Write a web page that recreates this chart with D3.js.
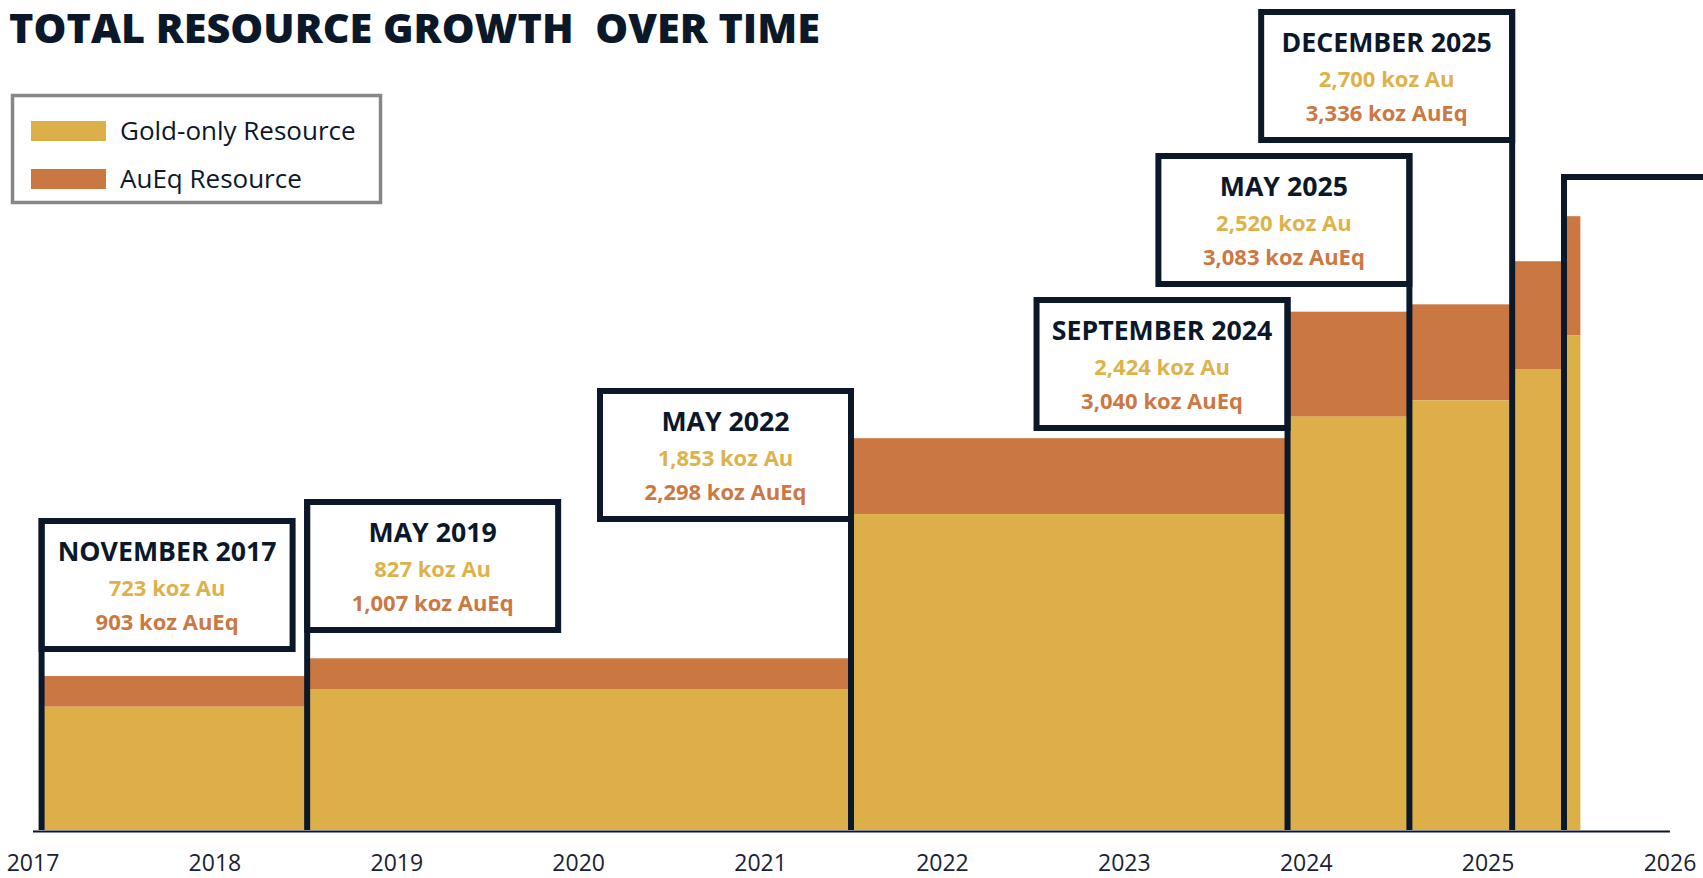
<!DOCTYPE html>
<html>
<head>
<meta charset="utf-8">
<script src="https://cdn.jsdelivr.net/npm/d3@7"></script>
<style>
  body { margin: 0; background: #fff; }
  svg { display: block; font-family: "Open Sans", "Noto Sans", sans-serif; }
</style>
</head>
<body>
<div id="chart"></div>
<script>
// resource updates (position on the year axis, labels, koz values)
var flagLabels = ['NOVEMBER 2017', 'MAY 2019', 'MAY 2022', 'SEPTEMBER 2024', 'MAY 2025', 'DECEMBER 2025', ''];
var axisPos = [2017.05, 2018.51, 2021.5, 2023.9, 2024.57, 2025.135, 2025.42];
var endPos = 2025.51;
var goldKoz = [723, 827, 1853, 2424, 2520, 2700, 2900];
var aueqKoz = [903, 1007, 2298, 3040, 3083, 3336, 3600];
var yearTicks = [2017, 2018, 2019, 2020, 2021, 2022, 2023, 2024, 2025, 2026];
var legendLabels = ['Gold-only Resource', 'AuEq Resource'];

// flag layout: top of each box (px) and side of the pole it hangs on
var flagTop = [521, 502, 391, 300, 156, 12, 177];
var flagSide = ['right', 'right', 'left', 'left', 'left', 'left', 'right'];

var navy = '#0b182a', gold = '#dcaf48', orange = '#cb7741';
var goldText = '#ddb24b', orangeText = '#cc7843';

var W = 1703, H = 878;
var svg = d3.select('#chart').append('svg').attr('width', W).attr('height', H);

var x = d3.scaleLinear().domain([2017, 2026]).range([32.5, 1669.5]);
var y = d3.scaleLinear().domain([0, 4000]).range([830, 148]);

svg.append('text')
    .attr('x', 9).attr('y', 43)
    .style('white-space', 'pre')
    .attr('font-size', 40).attr('font-weight', 800).attr('fill', navy)
    .attr('textLength', 811).attr('lengthAdjust', 'spacingAndGlyphs')
    .text('TOTAL RESOURCE GROWTH  OVER TIME');

// legend
var legend = svg.append('g');
legend.append('rect').attr('x', 12.5).attr('y', 95.5).attr('width', 368).attr('height', 107)
    .attr('fill', 'none').attr('stroke', '#878787').attr('stroke-width', 3.5);
legendLabels.forEach(function(l, i) {
    legend.append('rect').attr('x', 31).attr('y', 121 + i * 48).attr('width', 75).attr('height', 20)
        .attr('fill', i === 0 ? gold : orange);
    legend.append('text').attr('x', 120).attr('y', 140 + i * 48)
        .attr('font-size', 26).attr('fill', navy).text(l);
});

// stepped bars
var steps = axisPos.map(function(p, i) {
    return { x0: p, x1: i < axisPos.length - 1 ? axisPos[i + 1] : endPos, gold: goldKoz[i], aueq: aueqKoz[i] };
});

var bars = svg.append('g').selectAll('g').data(steps).enter().append('g');
bars.append('rect')
    .attr('x', function(d) { return x(d.x0); })
    .attr('width', function(d) { return x(d.x1) - x(d.x0); })
    .attr('y', function(d) { return y(d.aueq); })
    .attr('height', function(d) { return y(d.gold) - y(d.aueq); })
    .attr('fill', orange);
bars.append('rect')
    .attr('x', function(d) { return x(d.x0); })
    .attr('width', function(d) { return x(d.x1) - x(d.x0); })
    .attr('y', function(d) { return y(d.gold); })
    .attr('height', function(d) { return y(0) - y(d.gold); })
    .attr('fill', gold);

// x axis
var axis = svg.append('g').attr('transform', 'translate(0,' + (y(0) + 1) + ')')
    .call(d3.axisBottom(x).tickValues(yearTicks).tickFormat(d3.format('d')).tickSize(0).tickPadding(24));
axis.select('.domain').attr('stroke', navy).attr('stroke-width', 2);
axis.selectAll('text').attr('font-size', 23).attr('fill', '#1b2233')
    .attr('font-family', '"Open Sans", sans-serif');

// flags
var boxW = 251, boxH = 128;
axisPos.forEach(function(p, i) {
    var px = x(p);
    var bx = flagSide[i] === 'right' ? px : px - boxW;
    var by = flagTop[i];
    var g = svg.append('g');
    if (!flagLabels[i]) {
        // last flag runs off the page: only its top edge shows
        g.append('line').attr('x1', px - 3).attr('x2', W + 10).attr('y1', by).attr('y2', by)
            .attr('stroke', navy).attr('stroke-width', 6);
    } else {
        g.append('rect').attr('x', bx).attr('y', by).attr('width', boxW).attr('height', boxH)
            .attr('fill', '#fff').attr('stroke', navy).attr('stroke-width', 6);
    }
    g.append('line').attr('x1', px).attr('x2', px).attr('y1', by - 3).attr('y2', y(0))
        .attr('stroke', navy).attr('stroke-width', 6);
    if (!flagLabels[i]) return;
    var cx = bx + boxW / 2;
    g.append('text').attr('x', cx).attr('y', by + 40).attr('text-anchor', 'middle')
        .attr('font-size', 26.7).attr('font-weight', 700).attr('fill', navy).text(flagLabels[i]);
    g.append('text').attr('x', cx).attr('y', by + 75).attr('text-anchor', 'middle')
        .attr('font-size', 22).attr('font-weight', 700).attr('fill', goldText)
        .text(d3.format(',')(goldKoz[i]) + ' koz Au');
    g.append('text').attr('x', cx).attr('y', by + 109).attr('text-anchor', 'middle')
        .attr('font-size', 22).attr('font-weight', 700).attr('fill', orangeText)
        .text(d3.format(',')(aueqKoz[i]) + ' koz AuEq');
});
</script>
</body>
</html>
